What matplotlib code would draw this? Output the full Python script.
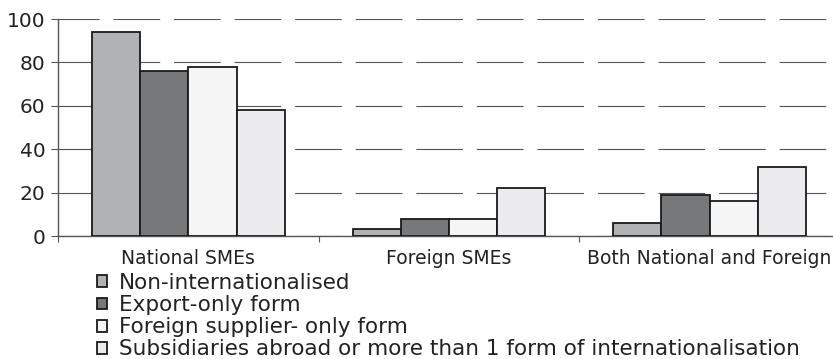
import numpy as np
import matplotlib.pyplot as plt

groups = ["National SMEs", "Foreign SMEs", "Both National and Foreign"]
series_names = [
    "Non-internationalised",
    "Export-only form",
    "Foreign supplier- only form",
    "Subsidiaries abroad or more than 1 form of internationalisation",
]
non_intl = [94, 3, 6]
export_only = [76, 8, 19]
supplier_only = [78, 8, 16]
subsidiaries = [58, 22, 32]

colors = ["#b1b2b4", "#77787a", "#f5f5f5", "#ececee"]

plt.rcParams['font.family'] = ['DejaVu Sans']

fig = plt.figure(figsize=(8.33, 3.59), dpi=100)
ax = fig.add_axes([58 / 833, 123 / 359, 782 / 833, 217 / 359])

x = np.arange(len(groups))
w = 0.185
all_series = [non_intl, export_only, supplier_only, subsidiaries]
bars = []
for i, vals in enumerate(all_series):
    b = ax.bar(x + (i - 1.5) * w, vals, w, color=colors[i], edgecolor="#1a1a1a",
               linewidth=1.3, label=series_names[i], zorder=3)
    bars.append(b)

ax.set_xlim(-0.5, 2.5)
ax.set_ylim(0, 100)
ax.set_yticks(range(0, 101, 20))
ax.yaxis.grid(True, color="#555555", linewidth=0.8, linestyle=(5, (42, 12.5)))
ax.set_axisbelow(True)

# category boundaries get the tick marks, centres get the labels
ax.set_xticks([-0.5, 0.5, 1.5, 2.5])
ax.set_xticklabels([])
ax.set_xticks(x, minor=True)
ax.set_xticklabels(groups, minor=True, fontsize=13.5, color="#222222")
ax.tick_params(axis="x", which="major", length=4, color="#555555")
ax.tick_params(axis="x", which="minor", length=0, pad=9)
ax.tick_params(axis="y", length=5, color="#555555", labelsize=14.5,
               labelcolor="#222222", pad=4)

for s in ["top", "right"]:
    ax.spines[s].set_visible(False)
for s in ["left", "bottom"]:
    ax.spines[s].set_color("#555555")
    ax.spines[s].set_linewidth(1.0)

fig.legend(handles=bars, labels=series_names, loc="upper left",
           bbox_to_anchor=(97 / 833, 1 - 273 / 359), frameon=False,
           fontsize=15.5, handlelength=0.48, handleheight=0.48,
           handletextpad=0.55, labelspacing=0.1, borderpad=0,
           borderaxespad=0, labelcolor="#222222")

fig.savefig("out.png", dpi=100)
